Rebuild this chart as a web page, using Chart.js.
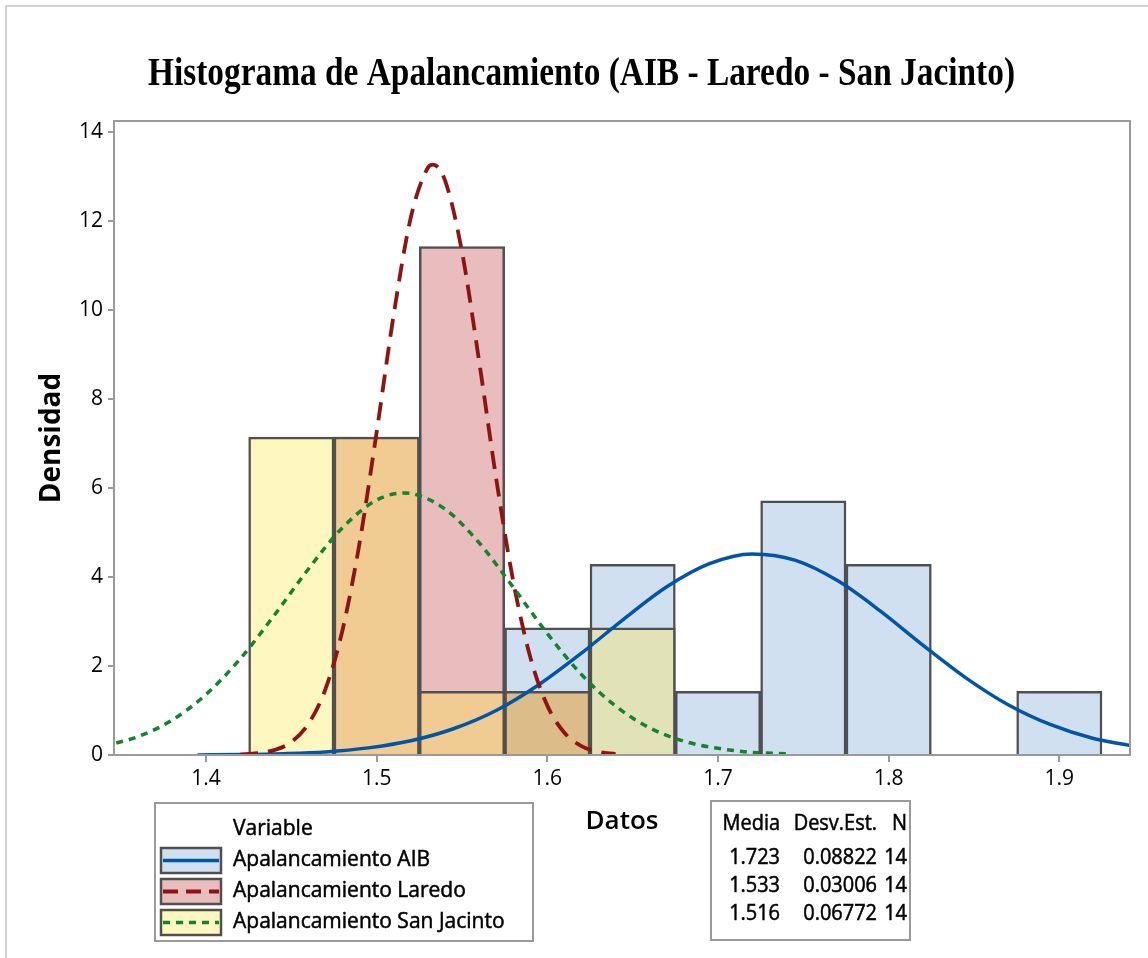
<!DOCTYPE html>
<html lang="es">
<head>
  <meta charset="UTF-8">
  <title>Histograma de Apalancamiento</title>
  <script src="https://cdn.jsdelivr.net/npm/chart.js"></script>
  <style>
    html, body { margin: 0; padding: 0; background: #fff; }
  </style>
</head>
<body>
  <canvas id="histChart" width="1148" height="958"></canvas>

  <script>
    // --- data ---
    const binCenters = [1.45, 1.50, 1.55, 1.60, 1.65, 1.70, 1.75, 1.80, 1.85, 1.90];
    const densAIB = [0, 0, 0, 2.857, 4.286, 1.429, 5.714, 4.286, 0, 1.429];
    const densLaredo = [0, 7.143, 11.429, 1.429, 0, 0, 0, 0, 0, 0];
    const densSanJacinto = [7.143, 7.143, 1.429, 1.429, 2.857, 0, 0, 0, 0, 0];

    // fitted normal curves
    const curveAIBx = [1.395, 1.42, 1.445, 1.47, 1.495, 1.52, 1.545, 1.57, 1.595, 1.62, 1.645, 1.67,
                       1.695, 1.72, 1.745, 1.77, 1.795, 1.82, 1.845, 1.87, 1.895, 1.92, 1.945];
    const curveAIBy = [0.00, 0.01, 0.03, 0.07, 0.16, 0.32, 0.59, 1.00, 1.58, 2.29, 3.06, 3.78,
                       4.30, 4.52, 4.38, 3.92, 3.24, 2.47, 1.74, 1.13, 0.68, 0.37, 0.19];
    const curveLaredoX = [1.42, 1.43, 1.44, 1.45, 1.46, 1.47, 1.48, 1.49, 1.50, 1.51, 1.52, 1.53, 1.533,
                          1.54, 1.55, 1.56, 1.57, 1.58, 1.59, 1.60, 1.61, 1.62, 1.63, 1.64];
    const curveLaredoY = [0.01, 0.04, 0.11, 0.29, 0.70, 1.48, 2.81, 4.77, 7.26, 9.90, 12.08, 13.20, 13.27,
                          12.92, 11.31, 8.86, 6.22, 3.91, 2.20, 1.11, 0.50, 0.20, 0.07, 0.02];
    const curveSanJacintoX = [1.34, 1.36, 1.38, 1.40, 1.42, 1.44, 1.46, 1.48, 1.50, 1.516, 1.52, 1.54,
                              1.56, 1.58, 1.60, 1.62, 1.64, 1.66, 1.68, 1.70, 1.72, 1.74];
    const curveSanJacintoY = [0.20, 0.41, 0.78, 1.36, 2.16, 3.14, 4.18, 5.11, 5.73, 5.89, 5.88, 5.53,
                              4.77, 3.77, 2.73, 1.81, 1.10, 0.61, 0.31, 0.15, 0.06, 0.03];

    const xTickValues = [1.4, 1.5, 1.6, 1.7, 1.8, 1.9];
    const yTickValues = [0, 2, 4, 6, 8, 10, 12, 14];

    const seriesNames = ['Apalancamiento AIB', 'Apalancamiento Laredo', 'Apalancamiento San Jacinto'];
    const statMedia = ['1.723', '1.533', '1.516'];
    const statDesv = ['0.08822', '0.03006', '0.06772'];
    const statN = ['14', '14', '14'];

    const chartTitle = 'Histograma de Apalancamiento (AIB - Laredo - San Jacinto)';

    // --- styles ---
    const seriesKeys = ['A', 'L', 'S'];
    const seriesDens = [densAIB, densLaredo, densSanJacinto];
    // fill colours, overlaps as Minitab blends them
    const fillColors = {
      A: '#d1e0f0', L: '#e9bcbe', S: '#fef8c0',
      LS: '#f0cc92', AS: '#e1e2b7', ALS: '#dcbd8a', AL: '#dccbd6'
    };
    const lineColors = ['#0055a8', '#8e1414', '#13842b'];
    const lineWidths = [3.5, 3.8, 3.5];
    const lineDash = [[], [18, 10], [7, 6]];
    const sansFont = '"Open Sans", "Noto Sans", sans-serif';
    const textColor = '#000';

    function barColor(ctx) {
      const s = ctx.datasetIndex;
      const i = ctx.dataIndex;
      const h = seriesDens[s][i];
      let key = '';
      seriesDens.forEach((d, k) => {
        if (d[i] > 0 && d[i] >= h) key += seriesKeys[k];
      });
      return fillColors[key] || fillColors[seriesKeys[s]];
    }

    function toPoints(xs, ys) {
      return xs.map((x, i) => ({ x: x, y: ys[i] }));
    }

    const barSets = seriesDens.map((dens, s) => ({
      type: 'bar',
      label: seriesNames[s],
      data: binCenters.map((x, i) => ({ x: x, y: dens[i] })),
      backgroundColor: barColor,
      borderColor: '#505050',
      borderWidth: 2.5,
      borderSkipped: 'start',
      barPercentage: 1,
      categoryPercentage: 1,
      grouped: false,
      order: 13 - s
    }));

    const curves = [
      [curveAIBx, curveAIBy],
      [curveLaredoX, curveLaredoY],
      [curveSanJacintoX, curveSanJacintoY]
    ];
    const lineSets = curves.map((c, s) => ({
      type: 'line',
      label: seriesNames[s] + ' (normal)',
      data: toPoints(c[0], c[1]),
      borderColor: lineColors[s],
      borderWidth: lineWidths[s],
      borderDash: lineDash[s],
      pointRadius: 0,
      cubicInterpolationMode: 'monotone',
      fill: false,
      order: 3 - s
    }));

    // draw text squeezed horizontally a little, like the Minitab export
    function squeezedText(ctx, text, x, y, align, font, sx, weight) {
      ctx.save();
      ctx.font = font;
      ctx.textAlign = align;
      ctx.textBaseline = 'alphabetic';
      ctx.translate(x, y);
      ctx.scale(sx, 1);
      ctx.fillText(text, 0, 0);
      if (weight) {
        ctx.strokeStyle = ctx.fillStyle;
        ctx.lineWidth = weight;
        ctx.strokeText(text, 0, 0);
      }
      ctx.restore();
    }

    const decorPlugin = {
      id: 'decor',
      beforeDraw(chart) {
        const ctx = chart.ctx;
        ctx.save();
        ctx.fillStyle = '#fff';
        ctx.fillRect(0, 0, chart.width, chart.height);
        // outer page frame (only top and left visible)
        ctx.strokeStyle = '#d2d2d2';
        ctx.lineWidth = 2;
        ctx.beginPath();
        ctx.moveTo(6, chart.height);
        ctx.lineTo(6, 6);
        ctx.lineTo(chart.width, 6);
        ctx.stroke();
        ctx.restore();
      },
      afterDraw(chart) {
        const ctx = chart.ctx;
        const a = chart.chartArea;
        ctx.save();
        // plot frame
        ctx.strokeStyle = '#9a9a9a';
        ctx.lineWidth = 2;
        ctx.strokeRect(a.left, a.top, a.right - a.left, a.bottom - a.top);

        // title
        ctx.fillStyle = '#000';
        ctx.font = 'bold 41px "Liberation Serif", "DejaVu Serif", serif';
        const tw = ctx.measureText(chartTitle).width;
        squeezedText(ctx, chartTitle, 581.5, 85, 'center',
          'bold 41px "Liberation Serif", "DejaVu Serif", serif', 867 / tw);

        // legend box
        ctx.strokeStyle = '#9a9a9a';
        ctx.lineWidth = 2;
        ctx.strokeRect(155, 803, 378, 138);
        ctx.fillStyle = textColor;
        const lf = '21px ' + sansFont;
        squeezedText(ctx, 'Variable', 233, 835, 'left', lf, 1, 0.5);
        const rowBase = [866, 897, 928];
        seriesNames.forEach((name, s) => {
          const top = rowBase[s] - 18;
          ctx.fillStyle = fillColors[seriesKeys[s]];
          ctx.fillRect(161, top, 60, 25);
          ctx.strokeStyle = '#505050';
          ctx.lineWidth = 2.5;
          ctx.strokeRect(161, top, 60, 25);
          ctx.beginPath();
          ctx.strokeStyle = lineColors[s];
          ctx.lineWidth = lineWidths[s];
          ctx.setLineDash(s === 1 ? [15, 8] : lineDash[s]);
          ctx.moveTo(163, top + 12.5);
          ctx.lineTo(219, top + 12.5);
          ctx.stroke();
          ctx.setLineDash([]);
          ctx.fillStyle = textColor;
          squeezedText(ctx, name, 233, rowBase[s], 'left', lf, 1, 0.5);
        });

        // statistics box
        ctx.strokeStyle = '#9a9a9a';
        ctx.lineWidth = 2;
        ctx.strokeRect(711, 801, 199, 139);
        ctx.fillStyle = textColor;
        squeezedText(ctx, 'Media', 780, 830, 'right', lf, 0.95, 0.5);
        squeezedText(ctx, 'Desv.Est.', 877, 830, 'right', lf, 0.95, 0.5);
        squeezedText(ctx, 'N', 907, 830, 'right', lf, 0.95, 0.5);
        const statBase = [864, 892, 920];
        statMedia.forEach((m, r) => {
          squeezedText(ctx, m, 780, statBase[r], 'right', lf, 0.95, 0.5);
          squeezedText(ctx, statDesv[r], 877, statBase[r], 'right', lf, 0.95, 0.5);
          squeezedText(ctx, statN[r], 907, statBase[r], 'right', lf, 0.95, 0.5);
        });
        ctx.restore();
      }
    };

    const ctx = document.getElementById('histChart').getContext('2d');
    new Chart(ctx, {
      data: { datasets: barSets.concat(lineSets) },
      options: {
        responsive: false,
        animation: false,
        layout: { padding: { left: 0, right: 18, top: 121, bottom: 0 } },
        plugins: {
          legend: { display: false },
          title: { display: false },
          tooltip: { enabled: false }
        },
        scales: {
          x: {
            type: 'linear',
            offset: false,
            min: 1.3461,
            max: 1.9414,
            afterFit(scale) { scale.height = 203; },
            afterBuildTicks(scale) { scale.ticks = xTickValues.map(v => ({ value: v })); },
            grid: { offset: false, drawOnChartArea: false, drawTicks: true, tickLength: 7, tickColor: '#9a9a9a', lineWidth: 2 },
            border: { display: false },
            ticks: {
              color: textColor,
              font: { family: sansFont, size: 21 },
              padding: 4,
              maxRotation: 0,
              callback: v => v.toFixed(1)
            },
            title: {
              display: true,
              text: 'Datos',
              color: textColor,
              font: { family: sansFont, size: 26, weight: '600' },
              padding: { top: 0, bottom: 121 }
            }
          },
          y: {
            min: 0,
            max: 14.25,
            afterFit(scale) { scale.width = 114; },
            afterBuildTicks(scale) { scale.ticks = yTickValues.map(v => ({ value: v })); },
            grid: { drawOnChartArea: false, drawTicks: true, tickLength: 6, tickColor: '#9a9a9a', lineWidth: 2 },
            border: { display: false },
            ticks: {
              color: textColor,
              font: { family: sansFont, size: 21 },
              padding: 5
            },
            title: {
              display: true,
              text: 'Densidad',
              color: textColor,
              font: { family: sansFont, size: 28, weight: 'bold' },
              padding: { top: 35, bottom: 0 }
            }
          }
        }
      },
      plugins: [decorPlugin]
    });
  </script>
</body>
</html>
